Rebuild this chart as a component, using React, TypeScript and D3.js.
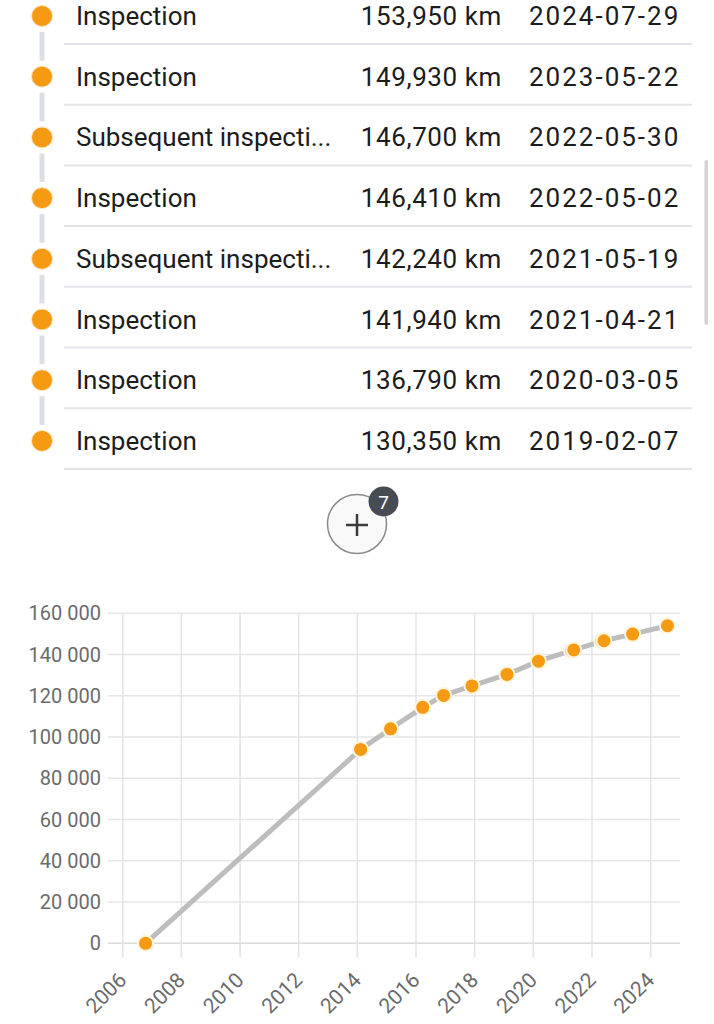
import React from 'react';
import * as d3 from 'd3';

const listTypes = [
  'Inspection',
  'Inspection',
  'Subsequent inspecti...',
  'Inspection',
  'Subsequent inspecti...',
  'Inspection',
  'Inspection',
  'Inspection',
];
const listKm = [153950, 149930, 146700, 146410, 142240, 141940, 136790, 130350];
const listDates = [
  '2024-07-29',
  '2023-05-22',
  '2022-05-30',
  '2022-05-02',
  '2021-05-19',
  '2021-04-21',
  '2020-03-05',
  '2019-02-07',
];
const hiddenCount = 7;

const chartDates = [
  '2006-10-12',
  '2014-02-10',
  '2015-02-18',
  '2016-03-25',
  '2016-12-10',
  '2017-11-28',
  '2019-02-07',
  '2020-03-05',
  '2021-04-21',
  '2021-05-19',
  '2022-05-02',
  '2022-05-30',
  '2023-05-22',
  '2024-07-29',
];
const chartKm = [0, 94000, 104000, 114400, 120200, 124800, 130350, 136790, 141940, 142240, 146410, 146700, 149930, 153950];
const yTicks = [0, 20000, 40000, 60000, 80000, 100000, 120000, 140000, 160000];
const xTickYears = [2006, 2008, 2010, 2012, 2014, 2016, 2018, 2020, 2022, 2024];

const FONT = 'Roboto, "Open Sans", sans-serif';
const ORANGE = '#f59a12';

export default function App() {
  const parse = d3.timeParse('%Y-%m-%d');
  const pts = chartDates.map((d, i) => ({ date: parse(d) as Date, km: chartKm[i] }));

  const x = d3.scaleTime().domain([new Date(2005, 6, 1), new Date(2025, 0, 1)]).range([108, 680]);
  const y = d3.scaleLinear().domain([0, 160000]).range([943.3, 613.3]);

  const spaceFmt = d3.formatLocale({ thousands: '\u2009', grouping: [3], decimal: '.', currency: ['', ''] }).format(',d');
  const yFmt = (v: number) => spaceFmt(v).replace(/\u2009/g, ' ');
  const kmFmt = d3.format(',d');

  const line = d3
    .line<{ date: Date; km: number }>()
    .x((d) => x(d.date))
    .y((d) => y(d.km));

  const rowY = d3.scaleLinear().domain([0, 1]).range([16, 76.7]);
  const rows = listTypes.map((t, i) => ({ t, km: listKm[i], date: listDates[i], cy: rowY(i) }));

  const [xmin, xmax] = x.range();
  const [ybot, ytop] = y.range();

  return (
    <svg width={714} height={1024} style={{ position: 'absolute', left: 0, top: 0, background: '#fff' }} fontFamily={FONT}>
      <rect x={0} y={0} width={714} height={1024} fill="#fff" />
      {/* timeline connectors */}
      {rows.slice(0, -1).map((r, i) => (
        <line key={'tl' + i} x1={42} x2={42} y1={r.cy + 16} y2={rows[i + 1].cy - 16} stroke="#dcdfe6" strokeWidth={5} />
      ))}
      {rows.map((r, i) => (
        <g key={'row' + i}>
          <line x1={64} x2={692} y1={r.cy + 28} y2={r.cy + 28} stroke="#e3e4e8" strokeWidth={2} />
          <circle cx={42} cy={r.cy} r={10.5} fill={ORANGE} stroke="#fde6c0" strokeWidth={1} />
          <text x={76} y={r.cy + 9} fontSize={26} fill="#1c1c1c">
            {r.t}
          </text>
          <text x={502} y={r.cy + 9} fontSize={26} fill="#1c1c1c" textAnchor="end" letterSpacing={0.6}>
            {kmFmt(r.km) + ' km'}
          </text>
          <text x={529} y={r.cy + 9} fontSize={26} fill="#1c1c1c" letterSpacing={2}>
            {r.date}
          </text>
        </g>
      ))}
      {/* scrollbar */}
      <rect x={704.5} y={160} width={3.5} height={165} rx={1.75} fill="#d4d4d4" />

      {/* more button */}
      <circle cx={357} cy={524} r={29.5} fill="#f9f9f9" stroke="#8a8a8a" strokeWidth={1.5} />
      <line x1={346} x2={368} y1={525} y2={525} stroke="#3a3a3a" strokeWidth={2.5} />
      <line x1={357} x2={357} y1={514} y2={536} stroke="#3a3a3a" strokeWidth={2.5} />
      <circle cx={383.5} cy={501.5} r={15} fill="#474b54" />
      <text x={383.5} y={508.5} fontSize={19} fill="#fff" textAnchor="middle">
        {hiddenCount}
      </text>

      {/* chart grid */}
      {yTicks.map((t) => (
        <g key={'y' + t}>
          <line x1={xmin} x2={xmax} y1={y(t)} y2={y(t)} stroke={t === 0 ? '#d9d9d9' : '#e6e6e6'} strokeWidth={1.5} />
          <text x={101} y={y(t) + 7} fontSize={20} fill="#6b6b6b" textAnchor="end">
            {yFmt(t)}
          </text>
        </g>
      ))}
      {xTickYears.map((yr) => {
        const px = x(new Date(yr, 0, 1));
        return (
          <g key={'x' + yr}>
            <line x1={px} x2={px} y1={ytop} y2={ybot + 14} stroke="#e3e3e3" strokeWidth={1.5} />
            <text
              transform={`translate(${px + 5},${ybot + 38}) rotate(-45)`}
              fontSize={21}
              fill="#6b6b6b"
              textAnchor="end"
            >
              {yr}
            </text>
          </g>
        );
      })}
      <path d={line(pts) || ''} fill="none" stroke="#bdbdbd" strokeWidth={5} strokeLinejoin="round" strokeLinecap="round" />
      {pts.map((p, i) => (
        <circle key={'p' + i} cx={x(p.date)} cy={y(p.km)} r={7.5} fill={ORANGE} stroke="#fff4dc" strokeWidth={2} />
      ))}
    </svg>
  );
}
